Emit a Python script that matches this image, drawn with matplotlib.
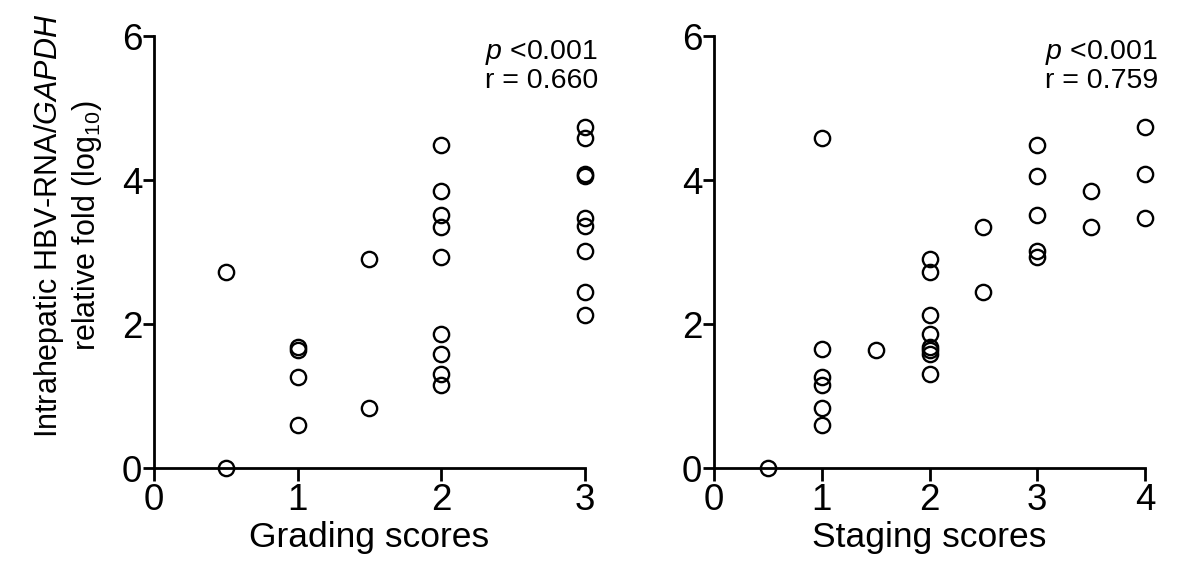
import matplotlib
matplotlib.use('Agg')
import matplotlib.pyplot as plt

plt.rcParams['font.family'] = ['Liberation Sans', 'DejaVu Sans']
plt.rcParams['mathtext.fontset'] = 'custom'
plt.rcParams['mathtext.rm'] = 'Liberation Sans'
plt.rcParams['mathtext.it'] = 'Liberation Sans:italic'

# grading panel
grade_x = [0.5, 0.5, 1, 1, 1, 1, 1.5, 1.5,
           2, 2, 2, 2, 2, 2, 2, 2, 2,
           3, 3, 3, 3, 3, 3, 3, 3, 3]
grade_y = [2.72, 0.0, 1.68, 1.64, 1.26, 0.60, 2.91, 0.83,
           4.49, 3.85, 3.51, 3.35, 2.93, 1.86, 1.58, 1.31, 1.15,
           4.74, 4.58, 4.09, 4.06, 3.47, 3.36, 3.01, 2.45, 2.12]

# staging panel
stage_x = [0.5, 1, 1, 1, 1, 1, 1, 1.5,
           2, 2, 2, 2, 2, 2, 2, 2,
           2.5, 2.5, 3, 3, 3, 3, 3, 3.5, 3.5, 4, 4, 4]
stage_y = [0.0, 4.58, 1.66, 1.27, 1.15, 0.83, 0.60, 1.64,
           2.91, 2.72, 2.12, 1.86, 1.68, 1.64, 1.59, 1.31,
           3.35, 2.45, 4.49, 4.06, 3.51, 3.01, 2.93, 3.85, 3.35, 4.74, 4.09, 3.47]

panels = [
    (grade_x, grade_y, 3, 'Grading scores', 'r = 0.660'),
    (stage_x, stage_y, 4, 'Staging scores', 'r = 0.759'),
]
lefts = [0.1295, 0.6005]

fig = plt.figure(figsize=(11.89, 5.63), dpi=100)

for (xs, ys, xmax, xlab, rtxt), left in zip(panels, lefts):
    ax = fig.add_axes([left, 0.1687, 0.3625, 0.767])
    ax.plot(xs, ys, 'o', ms=11, mfc='none', mec='black', mew=1.7, clip_on=False)
    ax.set_xlim(0, xmax)
    ax.set_ylim(0, 6)
    ax.set_xticks(range(xmax + 1))
    ax.set_yticks([0, 2, 4, 6])
    for s in ['top', 'right']:
        ax.spines[s].set_visible(False)
    for s in ['left', 'bottom']:
        ax.spines[s].set_linewidth(2)
    ax.tick_params(width=2, labelsize=26.5, direction='out')
    ax.tick_params(axis='x', length=9, pad=2)
    ax.tick_params(axis='y', length=8, pad=0.5)
    ax.set_xlabel(xlab, fontsize=25.5, labelpad=2)
    ax.text(1.03, 0.995, '$p$ <0.001\n' + rtxt, transform=ax.transAxes,
            ha='right', va='top', fontsize=20.5, linespacing=1.05)

ax0 = fig.axes[0]
ax0.set_ylabel('Intrahepatic HBV-RNA/$GAPDH$\nrelative fold (log$_{10}$)',
               fontsize=22, linespacing=1.15)
ax0.yaxis.set_label_coords(-0.117, 0.56)

fig.savefig('out.png', dpi=100)
